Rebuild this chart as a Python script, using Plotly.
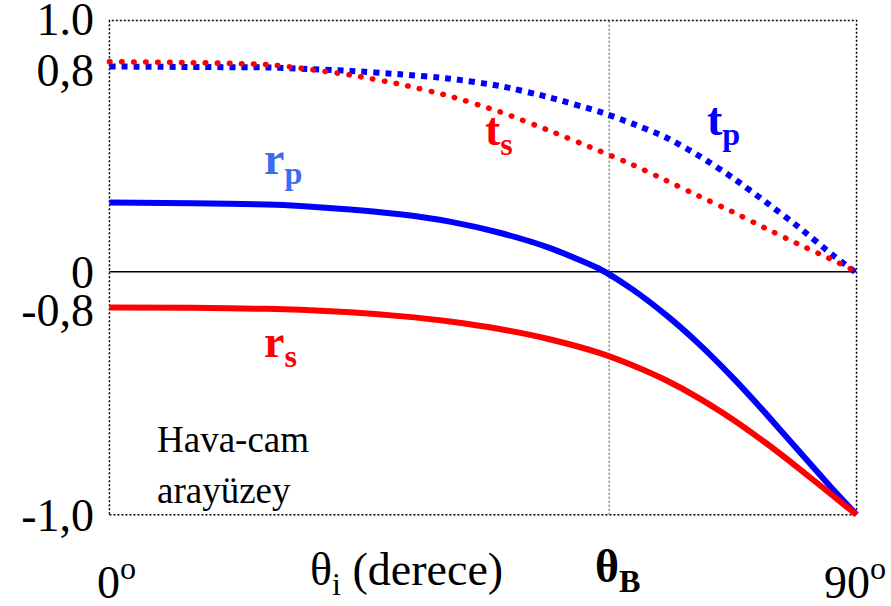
import plotly.graph_objects as go

# Incidence angle (degrees)
theta = [0, 10, 19, 23, 29, 35, 41, 47, 53, 59, 63, 67, 71, 75, 79, 83, 87, 90]
# Fresnel coefficients (schematic)
r_p = [0.284, 0.281, 0.276, 0.270, 0.256, 0.236, 0.206, 0.160, 0.098, 0.012, -0.073, -0.177,
       -0.297, -0.433, -0.581, -0.736, -0.890, -1.0]
r_s = [-0.148, -0.149, -0.153, -0.157, -0.167, -0.183, -0.205, -0.236, -0.278, -0.334, -0.385,
       -0.446, -0.520, -0.606, -0.703, -0.808, -0.918, -1.0]
t_s = [0.864, 0.860, 0.852, 0.837, 0.809, 0.771, 0.722, 0.658, 0.580, 0.497, 0.440, 0.376,
       0.311, 0.247, 0.179, 0.113, 0.050, 0.0]
t_p = [0.844, 0.842, 0.840, 0.835, 0.826, 0.812, 0.794, 0.764, 0.717, 0.658, 0.609, 0.553,
       0.477, 0.388, 0.288, 0.184, 0.072, -0.006]

theta_B = 60.2
y_top = 1.033
y_bottom = -1.0

ytick_vals = [1.04, 0.831, 0, -0.156, -1.0]
ytick_text = ["1.0", "0,8", "0", "-0,8", "-1,0"]

FONT = "Liberation Serif, Times New Roman, serif"
BLUE = "#0000ff"
RED = "#ff0000"

fig = go.Figure()
fig.add_trace(go.Scatter(x=theta, y=t_p, mode="lines",
                         line=dict(color=BLUE, width=6, dash="6px,6px", shape="spline", smoothing=0.6), name="t_p"))
fig.add_trace(go.Scatter(x=theta, y=t_s, mode="lines",
                         line=dict(color=RED, width=5.5, dash="0.5px,11.5px", shape="spline", smoothing=0.6), name="t_s"))
fig.add_trace(go.Scatter(x=theta, y=r_p, mode="lines",
                         line=dict(color=BLUE, width=6, shape="spline", smoothing=0.6), name="r_p"))
fig.add_trace(go.Scatter(x=theta, y=r_s, mode="lines",
                         line=dict(color=RED, width=6, shape="spline", smoothing=0.6), name="r_s"))

shapes = [
    dict(type="rect", xref="x", yref="y", x0=0, x1=90, y0=y_bottom, y1=y_top,
         line=dict(color="black", width=1.5, dash="2px,2px"), layer="below"),
    dict(type="line", xref="x", yref="y", x0=theta_B, x1=theta_B, y0=y_bottom, y1=y_top,
         line=dict(color="#888888", width=1.5, dash="2px,2px"), layer="below"),
    dict(type="line", xref="x", yref="y", x0=0, x1=90, y0=0, y1=0,
         line=dict(color="black", width=1.5), layer="below"),
]

def ann(text, x, y, size, color="black", xanchor="left", yanchor="middle", yref="y", xshift=0):
    return dict(text=text, x=x, y=y, xref="x", yref=yref, showarrow=False,
                xanchor=xanchor, yanchor=yanchor, xshift=xshift,
                font=dict(family=FONT, size=size, color=color))

annotations = [
    ann("<b>r<sub>p</sub></b>", 18.4, 0.453, 46, "#3a6df0"),
    ann("<b>r<sub>s</sub></b>", 18.4, -0.303, 46, RED),
    ann("<b>t<sub>s</sub></b>", 45.0, 0.572, 46, RED),
    ann("<b>t<sub>p</sub></b>", 71.8, 0.612, 46, BLUE),
    ann("Hava-cam", 5.5, -0.69, 37),
    ann("arayüzey", 5.5, -0.90, 37),
    ann("0<sup>o</sup>", 0, -0.113, 46, yref="paper", xshift=-14),
    ann("θ<sub>i</sub> (derece)", 23.9, -0.10, 46, yref="paper"),
    ann("<b>θ<sub>B</sub></b>", 58.2, -0.095, 46, yref="paper"),
    ann("90<sup>o</sup>", 85.8, -0.113, 46, yref="paper"),
]

fig.update_layout(
    width=891, height=606,
    margin=dict(l=96.5, r=21.5, t=14.4, b=83.7, autoexpand=False),
    paper_bgcolor="white", plot_bgcolor="white",
    showlegend=False,
    shapes=shapes, annotations=annotations,
    font=dict(family=FONT),
    xaxis=dict(range=[-1.5, 91.5], showgrid=False, zeroline=False, showline=False,
               showticklabels=False, ticks="", automargin=False),
    yaxis=dict(range=[-1.03, 1.06], showgrid=False, zeroline=False, showline=False,
               tickmode="array", tickvals=ytick_vals, ticktext=ytick_text, ticks="",
               tickfont=dict(family=FONT, size=46, color="black"), ticklabelstandoff=2,
               automargin=False, ticklabeloverflow="allow"),
)

post = """
document.body.style.margin = '0';
document.body.style.padding = '0';
var paths = document.querySelectorAll('.scatterlayer .trace');
if (paths.length > 1) {
  var p = paths[1].querySelector('path.js-line');
  if (p) { p.style.strokeLinecap = 'round'; }
}
"""
fig.write_html("out.html", post_script=post, config={"displayModeBar": False})
